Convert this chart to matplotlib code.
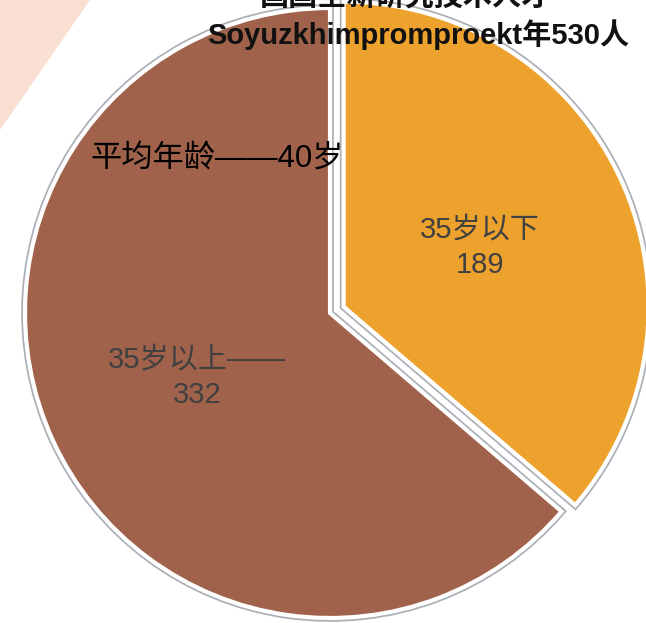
import matplotlib
matplotlib.use('Agg')
import matplotlib.pyplot as plt
import matplotlib.patheffects as pe
from matplotlib.patches import Polygon

# data
labels = ['35岁以下', '35岁以上——']
counts = [189, 332]
colors = ['#eda22e', '#a0624b']
title_lines = ['国国全新研究技术人才', 'Soyuzkhimpromproekt年530人']
note = '平均年龄——40岁'

W, H = 646, 623
fig = plt.figure(figsize=(W / 100, H / 100), dpi=100)
ax = fig.add_axes([0, 0, 1, 1])

fam = ['Liberation Sans', 'Noto Sans CJK SC']

# pink band top-left
ax.add_patch(Polygon([(0, H), (90, H), (0, H - 130)], closed=True,
                     facecolor='#fae0d2', edgecolor='none', zorder=0))

# explode is in data units here (pixels)
wedges, _ = ax.pie(counts, colors=colors, startangle=90, counterclock=False,
                   explode=[15, 0], center=(330, H - 313), radius=305,
                   frame=True,
                   wedgeprops=dict(edgecolor='white', linewidth=3,
                                   path_effects=[pe.Stroke(linewidth=5.5, foreground='#a9b0b8'),
                                                 pe.Normal()]))
ax.set_xlim(0, W)
ax.set_ylim(0, H)
ax.set_aspect('equal')
ax.axis('off')

# slice labels
ax.text(480, H - 247, f'{labels[0]}\n{counts[0]}', ha='center', va='center',
        fontsize=21, color='#404040', family=fam, linespacing=1.35, zorder=5)
ax.text(197, H - 377, f'{labels[1]}\n{counts[1]}', ha='center', va='center',
        fontsize=21, color='#404040', family=fam, linespacing=1.35, zorder=5)

ax.text(90, H - 160, note, ha='left', va='center', fontsize=22.5,
        color='black', family=fam, zorder=5)

# title (first line mostly cut off at the top, as in the source)
ax.text(405, H + 4, title_lines[0], ha='center', va='center', fontsize=21,
        fontweight='bold', color='#111111', family=fam, zorder=5)
ax.text(418, H - 35, title_lines[1], ha='center', va='center', fontsize=21,
        fontweight='bold', color='#111111', family=fam, zorder=5)

fig.savefig('out.png', dpi=100)
